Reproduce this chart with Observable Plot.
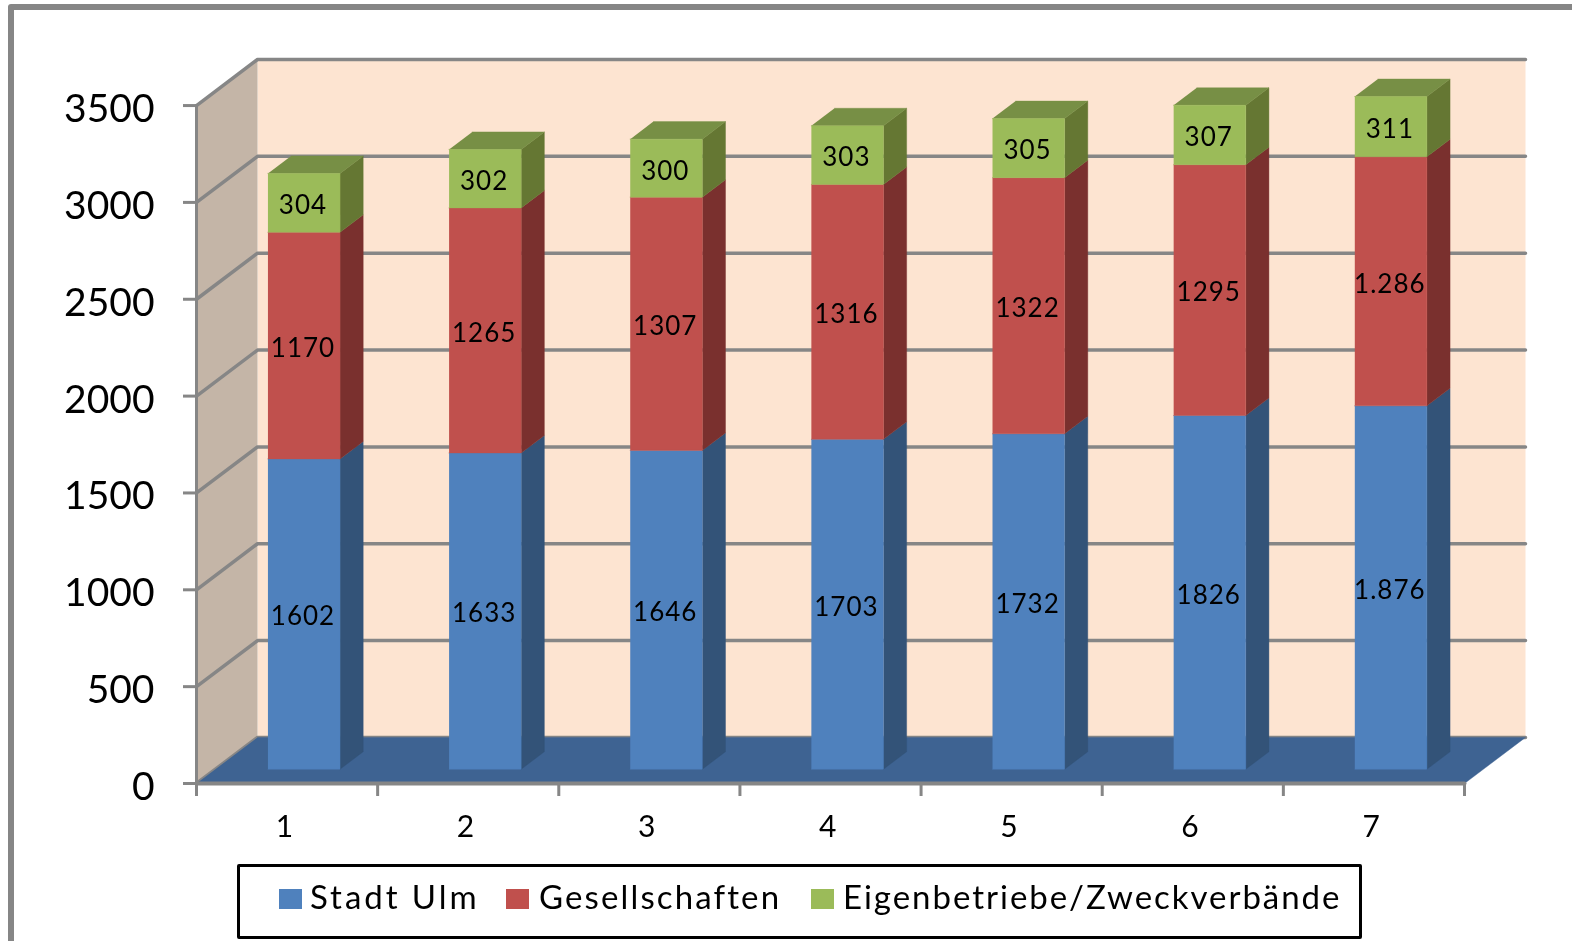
<!DOCTYPE html>
<html lang="de">
<head>
<meta charset="utf-8">
<script src="https://cdn.jsdelivr.net/npm/d3@7"></script>
<script src="https://cdn.jsdelivr.net/npm/@observablehq/plot@0.6"></script>
<style>
html,body{margin:0;padding:0;background:#fff;width:1572px;height:941px;overflow:hidden}
body{position:relative;font-family:Lato,sans-serif}
#frame{position:absolute;left:8px;top:4px;width:1600px;height:1000px;border:6px solid #868686;border-radius:3px;box-sizing:border-box}
#chart{position:absolute;left:0;top:0;filter:blur(0.55px)}
#legend{position:absolute;left:237px;top:864px;width:1125px;height:75px;box-sizing:border-box;border:3px solid #000;border-radius:2px;background:#fff;color:#000;font-size:33px;line-height:1;filter:blur(0.4px)}
#legend .sw{position:absolute;top:22px;width:23px;height:20px}
#legend .tx{position:absolute;top:13px;white-space:nowrap}
.dl text{letter-spacing:1px}
</style>
</head>
<body>
<div id="frame"></div>
<div id="chart"></div>
<div id="legend"></div>
<script>
const categories = [1, 2, 3, 4, 5, 6, 7];
const stadtUlm = [1602, 1633, 1646, 1703, 1732, 1826, 1876];
const gesellschaften = [1170, 1265, 1307, 1316, 1322, 1295, 1286];
const eigenbetriebe = [304, 302, 300, 303, 305, 307, 311];
const yTicks = [0, 500, 1000, 1500, 2000, 2500, 3000, 3500];
const seriesNames = ["Stadt Ulm", "Gesellschaften", "Eigenbetriebe/Zweckverbände"];
const frontColors = ["#4F81BD", "#C0504D", "#9BBB59"];
const sideColors = ["#335378", "#7A302E", "#657733"];
const topColors = ["#3A6090", "#8F3C3A", "#778F45"];

// Oblique projection: depth (0 front .. 1 back wall) expressed in data units.
const depthX = 61 / 181.14;
const depthY = 237.8;
const barZ0 = 0.31, barZ1 = 0.69;
const barPad = 0.29;   // share of a category slot left of the bar
const barW = 0.398;
const px = (c, z) => c + z * depthX;
const py = (v, z) => v + z * depthY;

const polys = [];
let polyId = 0;
function poly(fill, pts) {
  polyId++;
  for (const [c, v, z] of pts) polys.push({id: polyId, fill, x: px(c, z), y: py(v, z)});
}
// walls and floor
const nCat = categories.length, yMax = yTicks[yTicks.length - 1];
poly("#FDE4D1", [[0, 0, 1], [nCat, 0, 1], [nCat, yMax, 1], [0, yMax, 1]]);
poly("#C4B5A7", [[0, 0, 0], [0, 0, 1], [0, yMax, 1], [0, yMax, 0]]);

const grid = [];
yTicks.forEach((v) => {
  [[0, 0], [0, 1], [nCat, 1]].forEach(([c, z]) => grid.push({v, x: px(c, z), y: py(v, z)}));
});
const labels = [];
const barPolys = [];
const seriesArr = [stadtUlm, gesellschaften, eigenbetriebe];
categories.forEach((cat, i) => {
  const c0 = i + barPad, c1 = c0 + barW;
  let base = 0;
  seriesArr.forEach((arr, s) => {
    const t = base + arr[i];
    // side face
    barPolys.push(["side", sideColors[s], [[c1, base, barZ0], [c1, base, barZ1], [c1, t, barZ1], [c1, t, barZ0]]]);
    if (s === 2) barPolys.push(["top", topColors[s], [[c0, t, barZ0], [c1, t, barZ0], [c1, t, barZ1], [c0, t, barZ1]]]);
    barPolys.push(["front", frontColors[s], [[c0, base, barZ0], [c1, base, barZ0], [c1, t, barZ0], [c0, t, barZ0]]]);
    labels.push({
      x: px((c0 + c1) / 2, barZ0),
      y: py((base + t) / 2, barZ0),
      text: i === 6 && arr[i] >= 1000 ? arr[i].toLocaleString("de-DE") : String(arr[i])
    });
    base = t;
  });
});
const floorPts = [[0, 0, 0], [nCat, 0, 0], [nCat, 0, 1], [0, 0, 1]];
const polys2 = [];
{
  const save = polys.length;
  poly("#3E6392", floorPts);
  barPolys.forEach(([, f, pts]) => poly(f, pts));
  polys2.push(...polys.splice(save));
}
const axisLines = [
  {x: 0, y: 0}, {x: 0, y: yMax}
];
const axisBottom = [{x: 0, y: 0}, {x: nCat, y: 0}];

const plot = Plot.plot({
  width: 1572,
  height: 858,
  marginLeft: 196,
  marginRight: 47,
  marginTop: 59,
  marginBottom: 75,
  x: {domain: [0, nCat + depthX], range: [196, 1525], axis: null},
  y: {domain: [0, yMax + depthY], range: [783, 59], axis: null},
  color: {type: "identity"},
  style: {background: "transparent", fontFamily: "Lato, sans-serif", color: "#000", overflow: "visible"},
  marks: [
    Plot.line(polys, {x: "x", y: "y", z: "id", fill: "fill", stroke: "none"}),
    Plot.line(grid, {x: "x", y: "y", z: "v", stroke: "#868686", strokeWidth: 3.5, strokeLinejoin: "miter"}),
    Plot.line(polys2, {x: "x", y: "y", z: "id", fill: "fill", stroke: "fill", strokeWidth: 0.4}),
    Plot.line(axisLines, {x: "x", y: "y", stroke: "#868686", strokeWidth: 3}),
    Plot.line(axisBottom, {x: "x", y: "y", stroke: "#868686", strokeWidth: 4}),
    Plot.axisY({ticks: yTicks, tickSize: 13, tickFormat: () => "", label: null, stroke: "#868686", strokeWidth: 3}),
    Plot.axisY({ticks: yTicks, tickSize: 0, tickPadding: 42, dy: 4, label: null, fontSize: 39, fill: "#000", stroke: "none", tickFormat: (d) => String(d)}),
    Plot.axisX({ticks: d3.range(nCat + 1), tickSize: 13, tickFormat: () => "", label: null, stroke: "#868686", strokeWidth: 3}),
    Plot.text(categories, {x: (d) => d - 0.515, y: () => 0, text: (d) => String(d), dy: 44, fontSize: 30, fill: "#000"}),
    Plot.text(labels, {x: "x", y: "y", text: "text", dx: -1, dy: 3, fontSize: 26, fill: "#000", className: "dl"})
  ]
});
document.getElementById("chart").appendChild(plot);

const legendLayout = [
  {sw: 39, tx: 70, ls: 2.95},
  {sw: 266, tx: 299, ls: 2.13},
  {sw: 571, tx: 603, ls: 1.97}
];
const lg = document.getElementById("legend");
seriesNames.forEach((name, i) => {
  const s = document.createElement("span");
  s.className = "sw";
  s.style.left = legendLayout[i].sw + "px";
  s.style.background = frontColors[i];
  lg.appendChild(s);
  const t = document.createElement("span");
  t.className = "tx";
  t.style.left = legendLayout[i].tx + "px";
  t.style.letterSpacing = legendLayout[i].ls + "px";
  t.textContent = name;
  lg.appendChild(t);
});
</script>
</body>
</html>
